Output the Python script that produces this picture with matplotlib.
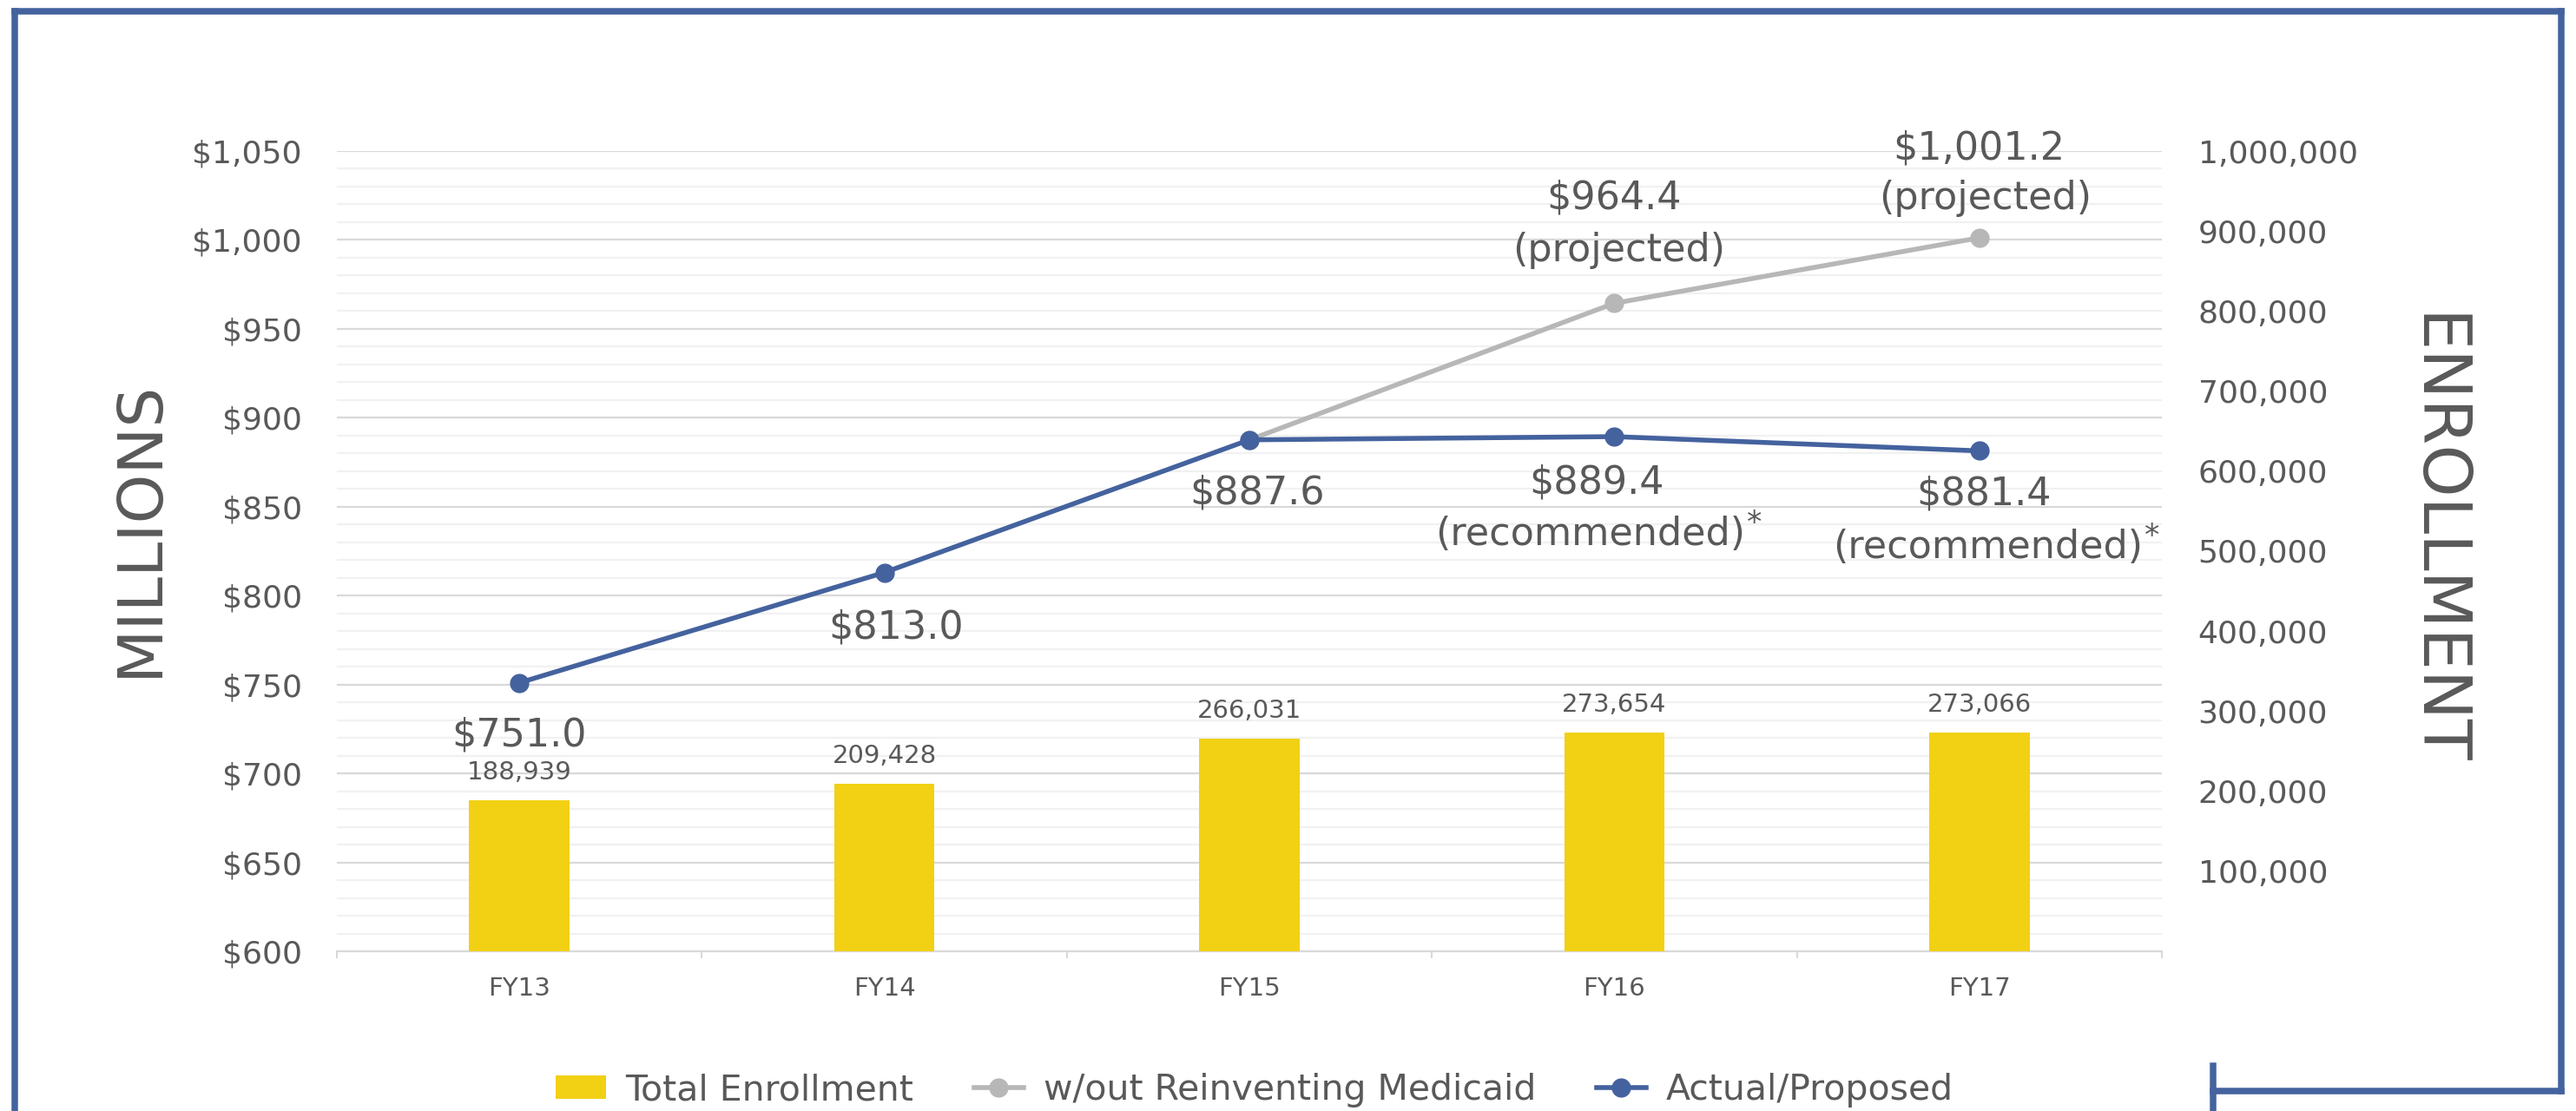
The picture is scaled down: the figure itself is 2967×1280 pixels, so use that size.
import matplotlib
matplotlib.use("Agg")
import matplotlib.pyplot as plt
import numpy as np
from matplotlib.lines import Line2D
from matplotlib.patches import Patch
from matplotlib.ticker import FuncFormatter, MultipleLocator

plt.rcParams['font.family'] = ['DejaVu Sans']

# data
years = ["FY13", "FY14", "FY15", "FY16", "FY17"]
enrollment = [188939, 209428, 266031, 273654, 273066]
actual = [751.0, 813.0, 887.6, 889.4, 881.4]
without_ri = [np.nan, np.nan, 887.6, 964.4, 1001.2]
actual_notes = ["", "", "", "(recommended)", "(recommended)"]
without_notes = ["", "", "", "(projected)", "(projected)"]

TEXT = '#595959'
GOLD = '#F2D014'
BLUE = '#44629E'
GRAY = '#B7B7B7'
W, H = 2967, 1280

fig = plt.figure(figsize=(W / 100, H / 100), dpi=100)
ax = fig.add_axes([388 / W, 1 - 1096 / H, (2490 - 388) / W, (1096 - 174) / H])
ax2 = ax.twinx()
ax3 = ax.twinx()
ax.set_zorder(0)
ax2.set_zorder(1)
ax3.set_zorder(2)

x = np.arange(len(years))

# left axis: dollars + grid
ax.set_xlim(-0.5, len(years) - 0.5)
ax.set_ylim(600, 1050)
ax.yaxis.set_major_locator(MultipleLocator(50))
ax.yaxis.set_minor_locator(MultipleLocator(10))
ax.yaxis.set_major_formatter(FuncFormatter(lambda v, _: f"${v:,.0f}"))
ax.grid(axis='y', which='major', color='#D9D9D9', lw=1.6)
ax.grid(axis='y', which='minor', color='#F1F1F1', lw=1.6)
ax.set_axisbelow(True)
ax.tick_params(axis='y', which='both', length=0, pad=29, labelsize=26, labelcolor=TEXT)
ax.set_xticks(np.arange(-0.5, len(years)))
ax.set_xticklabels([])
ax.tick_params(axis='x', which='major', length=6, width=1.5, color='#D9D9D9')
ax.set_xticks(x, minor=True)
ax.set_xticklabels(years, minor=True)
ax.tick_params(axis='x', which='minor', length=0, pad=21, labelsize=21, labelcolor=TEXT)
for s in ['left', 'right', 'top']:
    ax.spines[s].set_visible(False)
ax.spines['bottom'].set_color('#D9D9D9')
ax.spines['bottom'].set_linewidth(1.6)

# right axis: enrollment bars
ax2.set_ylim(0, 1_000_000)
ax2.set_yticks(np.arange(100_000, 1_000_001, 100_000))
ax2.yaxis.set_major_formatter(FuncFormatter(lambda v, _: f"{v:,.0f}"))
ax2.tick_params(axis='y', length=0, pad=30, labelsize=26, labelcolor=TEXT)
for s in ax2.spines.values():
    s.set_visible(False)
bars = ax2.bar(x, enrollment, width=0.275, color=GOLD)
for xi, v in zip(x, enrollment):
    ax2.annotate(f"{v:,}", (xi, v), xytext=(0, 32), textcoords='offset pixels',
                 ha='center', va='center', fontsize=21, color=TEXT)

# lines on a third axis sharing the dollar scale
ax3.set_ylim(ax.get_ylim())
ax3.set_axis_off()
ax3.plot(x, without_ri, color=GRAY, lw=4, marker='o', ms=15)
ax3.plot(x, actual, color=BLUE, lw=4, marker='o', ms=15)

actual_offsets = [(0, -60), (13, -63), (9, -61), (-20, -53), (5, -50)]
actual_note_offsets = [None, None, None, (-28, -112), (10, -111)]
for i, v in enumerate(actual):
    dx, dy = actual_offsets[i]
    ax3.annotate(f"${v:,.1f}", (x[i], v), xytext=(dx, dy), textcoords='offset pixels',
                 ha='center', va='center', fontsize=32, color=TEXT)
    if actual_notes[i]:
        ndx, ndy = actual_note_offsets[i]
        t = ax3.annotate(actual_notes[i], (x[i], v), xytext=(ndx, ndy),
                         textcoords='offset pixels', ha='center', va='center',
                         fontsize=32, color=TEXT)
        ax3.annotate("*", xy=(1, 1), xycoords=t, xytext=(2, 8),
                     textcoords='offset pixels', ha='left', va='top',
                     fontsize=25, color=TEXT)

without_offsets = [None, None, None, (0, 121), (0, 103)]
without_note_offsets = [None, None, None, (5, 61), (7, 45)]
for i, v in enumerate(without_ri):
    if not without_notes[i]:
        continue
    dx, dy = without_offsets[i]
    ax3.annotate(f"${v:,.1f}", (x[i], v), xytext=(dx, dy), textcoords='offset pixels',
                 ha='center', va='center', fontsize=32, color=TEXT)
    ndx, ndy = without_note_offsets[i]
    ax3.annotate(without_notes[i], (x[i], v), xytext=(ndx, ndy), textcoords='offset pixels',
                 ha='center', va='center', fontsize=32, color=TEXT)

# axis titles
fig.text(161 / W, 1 - 609 / H, "MILLIONS", rotation=90, ha='center', va='center',
         fontsize=52, color=TEXT)
fig.text(2805 / W, 1 - 622 / H, "ENROLLMENT", rotation=270, ha='center', va='center',
         fontsize=55, color=TEXT)

# legend
handles = [
    Patch(facecolor=GOLD, label='Total Enrollment'),
    Line2D([], [], color=GRAY, lw=4, marker='o', ms=15, label='w/out Reinventing Medicaid'),
    Line2D([], [], color=BLUE, lw=4, marker='o', ms=15, label='Actual/Proposed'),
]
fig.legend(handles=handles, loc='center', bbox_to_anchor=(1445 / W, 1 - 1256 / H),
           ncol=3, frameon=False, fontsize=29.5, labelcolor=TEXT, handlelength=1.4,
           handleheight=0.65, handletextpad=0.55, columnspacing=1.7, borderpad=0)

# frame around the chart
BORDER = '#44629E'
lw = 5.4
segments = [
    ((17, 17), (13, H)),
    ((17, 2950), (13, 13)),
    ((2950, 2950), (13, 1257)),
    ((2549, 2950), (1257, 1257)),
    ((2549, 2549), (1228, H)),
]
for xs, ys in segments:
    fig.add_artist(Line2D([xs[0] / W, xs[1] / W], [1 - ys[0] / H, 1 - ys[1] / H],
                          transform=fig.transFigure, color=BORDER, lw=lw,
                          solid_capstyle='projecting'))

fig.savefig('out.png', dpi=100)
